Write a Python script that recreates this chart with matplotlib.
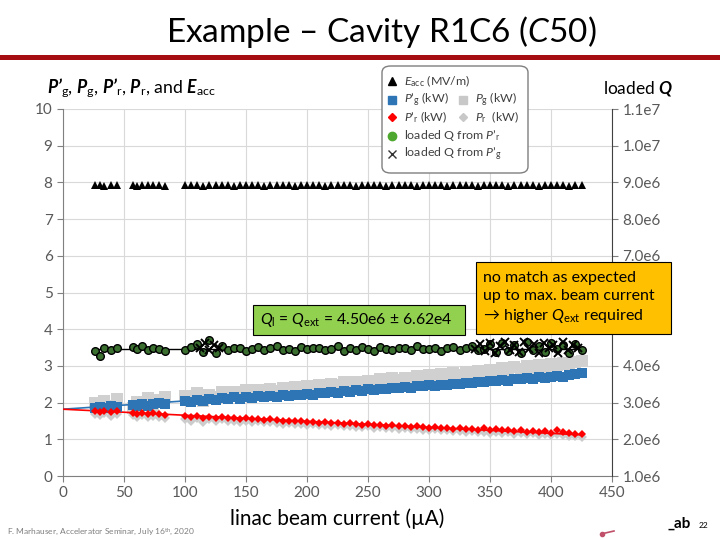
import numpy as np
import matplotlib
matplotlib.use("Agg")
import matplotlib.pyplot as plt
from matplotlib.lines import Line2D
from matplotlib.patches import Rectangle, FancyBboxPatch
from matplotlib.ticker import FuncFormatter

plt.rcParams['font.family'] = ['Lato', 'DejaVu Sans']
plt.rcParams['mathtext.fontset'] = 'custom'
plt.rcParams['mathtext.rm'] = 'Lato'
plt.rcParams['mathtext.it'] = 'Lato:italic'
plt.rcParams['mathtext.bf'] = 'Lato:bold'
plt.rcParams['mathtext.bfit'] = 'Lato:italic:bold'

# beam current (uA), shared by all measured series
current = [26, 30, 34, 39, 44, 57, 61, 65, 70, 74, 79, 84,
           100, 105, 110, 115, 120, 125, 130, 135, 140, 145, 150, 155, 160, 165, 170,
           175, 180, 185, 190, 195, 200, 205, 210, 215, 220, 225, 230, 235, 240, 245,
           250, 255, 260, 265, 270, 275, 280, 285, 290, 295, 300, 305, 310, 315, 320,
           325, 330, 335, 340, 345, 350, 355, 360, 365, 370, 375, 380, 385, 390, 395,
           400, 405, 410, 415, 420, 425]

eacc = [7.92, 7.93, 7.91, 7.92, 7.93, 7.92, 7.91, 7.93, 7.92, 7.92, 7.93, 7.91,
        7.92, 7.93, 7.92, 7.91, 7.93, 7.92, 7.92, 7.93, 7.91, 7.92, 7.93, 7.92, 7.92, 7.91, 7.93,
        7.92, 7.92, 7.93, 7.91, 7.92, 7.93, 7.92, 7.92, 7.91, 7.93, 7.92, 7.92, 7.93, 7.91, 7.92,
        7.93, 7.92, 7.92, 7.91, 7.93, 7.92, 7.92, 7.93, 7.91, 7.92, 7.93, 7.92, 7.92, 7.91, 7.93,
        7.92, 7.92, 7.93, 7.91, 7.92, 7.93, 7.92, 7.92, 7.91, 7.93, 7.92, 7.92, 7.93, 7.91, 7.92,
        7.93, 7.92, 7.92, 7.91, 7.93, 7.92]

pg_prime = [1.86, 1.88, 1.85, 1.90, 1.87, 1.93, 1.90, 1.95, 1.92, 1.96, 1.98, 1.95,
            2.05, 2.02, 2.08, 2.04, 2.10, 2.07, 2.12, 2.10, 2.14, 2.11, 2.15, 2.13, 2.17, 2.15, 2.18,
            2.16, 2.20, 2.19, 2.22, 2.20, 2.24, 2.22, 2.27, 2.25, 2.29, 2.27, 2.31, 2.30, 2.33, 2.32,
            2.36, 2.34, 2.38, 2.37, 2.40, 2.39, 2.43, 2.41, 2.45, 2.44, 2.47, 2.46, 2.49, 2.48, 2.52,
            2.50, 2.54, 2.53, 2.57, 2.55, 2.60, 2.58, 2.62, 2.60, 2.64, 2.63, 2.66, 2.65, 2.69, 2.67,
            2.71, 2.73, 2.70, 2.76, 2.78, 2.80]

pg = [1.98, 1.80, 2.05, 1.92, 2.10, 1.85, 2.02, 1.95, 2.12, 1.90, 2.08, 2.15,
      2.18, 2.10, 2.25, 2.05, 2.22, 2.15, 2.28, 2.20, 2.30, 2.24, 2.33, 2.26, 2.35, 2.30, 2.38,
      2.32, 2.40, 2.36, 2.42, 2.38, 2.46, 2.40, 2.48, 2.45, 2.52, 2.47, 2.55, 2.50, 2.57, 2.54,
      2.60, 2.56, 2.63, 2.58, 2.66, 2.62, 2.68, 2.65, 2.72, 2.68, 2.74, 2.70, 2.77, 2.73, 2.80,
      2.76, 2.83, 2.79, 2.86, 2.82, 2.90, 2.86, 2.93, 2.89, 2.96, 2.92, 2.99, 2.95, 3.02, 2.98,
      3.05, 3.02, 3.08, 3.05, 3.10, 3.12]

pr_prime = [1.77, 1.75, 1.78, 1.74, 1.76, 1.72, 1.70, 1.73, 1.69, 1.71, 1.68, 1.67,
            1.63, 1.60, 1.64, 1.58, 1.62, 1.57, 1.61, 1.58, 1.57, 1.55, 1.58, 1.54, 1.56, 1.53, 1.55,
            1.52, 1.50, 1.51, 1.49, 1.50, 1.47, 1.48, 1.45, 1.47, 1.44, 1.45, 1.42, 1.44, 1.41, 1.40,
            1.42, 1.39, 1.40, 1.37, 1.38, 1.36, 1.37, 1.34, 1.36, 1.33, 1.32, 1.34, 1.31, 1.32, 1.29,
            1.30, 1.28, 1.29, 1.26, 1.30, 1.25, 1.27, 1.24, 1.26, 1.22, 1.25, 1.21, 1.23, 1.20, 1.22,
            1.18, 1.24, 1.21, 1.18, 1.15, 1.14]

pr = [1.70, 1.66, 1.72, 1.64, 1.69, 1.65, 1.62, 1.66, 1.60, 1.64, 1.61, 1.59,
      1.56, 1.50, 1.57, 1.48, 1.55, 1.50, 1.54, 1.51, 1.50, 1.47, 1.51, 1.47, 1.49, 1.46, 1.48,
      1.45, 1.43, 1.44, 1.42, 1.43, 1.40, 1.41, 1.38, 1.40, 1.37, 1.38, 1.35, 1.37, 1.34, 1.33,
      1.35, 1.32, 1.33, 1.30, 1.31, 1.29, 1.30, 1.27, 1.29, 1.26, 1.25, 1.27, 1.24, 1.25, 1.22,
      1.23, 1.21, 1.22, 1.19, 1.21, 1.18, 1.20, 1.17, 1.19, 1.15, 1.18, 1.14, 1.16, 1.13, 1.15,
      1.11, 1.14, 1.12, 1.10, 1.08, 1.07]

# loaded Q from P'r, in units of 1e6
q_from_pr = [4.40, 4.28, 4.48, 4.43, 4.50, 4.52, 4.45, 4.55, 4.42, 4.50, 4.47, 4.40,
             4.44, 4.52, 4.60, 4.38, 4.70, 4.35, 4.55, 4.42, 4.48, 4.50, 4.40, 4.46, 4.52, 4.43, 4.49,
             4.55, 4.42, 4.47, 4.40, 4.52, 4.45, 4.48, 4.50, 4.43, 4.46, 4.53, 4.41, 4.49, 4.44, 4.51,
             4.47, 4.40, 4.52, 4.46, 4.43, 4.50, 4.48, 4.42, 4.54, 4.47, 4.45, 4.50, 4.41, 4.48, 4.52,
             4.44, 4.49, 4.55, 4.43, 4.47, 4.60, 4.38, 4.62, 4.40, 4.58, 4.35, 4.65, 4.42, 4.55, 4.37,
             4.63, 4.45, 4.58, 4.36, 4.60, 4.44]

# loaded Q from P'g (dense cluster), in units of 1e6
current_qg = [112, 116, 120, 124, 128, 338, 342, 346, 350, 354, 358, 362, 366, 370,
              374, 378, 382, 386, 390, 394, 398, 402, 406, 410, 414, 418, 422]
q_from_pg = [4.50, 4.62, 4.42, 4.58, 4.48, 4.45, 4.60, 4.40, 4.62, 4.35, 4.55, 4.66, 4.42,
             4.58, 4.38, 4.64, 4.45, 4.60, 4.36, 4.62, 4.48, 4.56, 4.34, 4.65, 4.44, 4.58, 4.50]

# linear fits
fit_x = [0, 425]
fit_pg = [1.82, 2.78]
fit_pr = [1.82, 1.12]
fit_qx = [26, 425]
fit_q = [4.46, 4.46]

grey_txt = '#595959'

fig = plt.figure(figsize=(7.2, 5.4), dpi=100)
W, H = 720.0, 540.0

def fx(px):
    return px / W

def fy(py):
    return 1 - py / H

ax = fig.add_axes([fx(63), fy(476), 549 / W, 367 / H])
ax.set_xlim(0, 450)
ax.set_ylim(0, 10)
ax.set_xticks(np.arange(0, 451, 50))
ax.set_yticks(np.arange(0, 11, 1))
ax.grid(True, color='#d9d9d9', lw=0.8)
ax.set_axisbelow(True)
for s in ['top', 'right']:
    ax.spines[s].set_visible(False)
for s in ['left', 'bottom']:
    ax.spines[s].set_color('#808080')
ax.tick_params(colors='#808080', labelcolor=grey_txt, labelsize=11, length=4)
ax.set_xlabel('linac beam current (µA)', fontsize=15, labelpad=6)

ax.plot(current, pg, 's', color='#d0d0d0', ms=9, mew=0, zorder=2)
ax.plot(current, pr, 'D', color='#cccccc', ms=5.5, mew=0, zorder=2)
ax.plot(fit_x, fit_pg, '-', color='#2e75b6', lw=1.2, zorder=3)
ax.plot(fit_x, fit_pr, '-', color='#ff0000', lw=1.2, zorder=3)
ax.plot(current, pg_prime, 's', color='#2e75b6', ms=6.5, mew=0, zorder=4)
ax.plot(current, pr_prime, 'D', color='#ff0000', ms=4.5, mew=0, zorder=4)
ax.plot(current, eacc, '^', color='black', ms=6, mew=0, zorder=4)

ax2 = ax.twinx()
ax2.set_ylim(1e6, 1.1e7)
ax2.set_yticks(np.arange(1e6, 1.15e7, 1e6))

def qfmt(v, pos):
    # 5.0e6 and 6.0e6 sit underneath the orange note
    if round(v / 1e6) in (5, 6):
        return ''
    m, e = f"{v:.1e}".split('e')
    return f"{m}e{int(e)}"

ax2.yaxis.set_major_formatter(FuncFormatter(qfmt))
for s in ['top', 'left', 'bottom']:
    ax2.spines[s].set_visible(False)
ax2.spines['right'].set_color('#404040')
ax2.tick_params(colors='#808080', labelcolor=grey_txt, labelsize=11, length=4)
ax2.plot(fit_qx, np.array(fit_q) * 1e6, '-', color='black', lw=1.0, zorder=2)
ax2.plot(current, np.array(q_from_pr) * 1e6, 'o', ms=5.5, mfc='#3a6f30', mec='black',
         mew=1.0, zorder=3)
ax2.plot(current_qg, np.array(q_from_pg) * 1e6, 'x', ms=6, color='black', mew=1.4, zorder=3)

# title and red rule
fig.text(fx(381), fy(42), 'Example – Cavity R1C6 ($\\mathit{C50}$)', fontsize=24,
         ha='center', va='baseline')
fig.add_artist(Rectangle((0, fy(60)), 1, 5 / H, transform=fig.transFigure,
                         facecolor='#a50d12', edgecolor='none'))

# axis titles
fig.text(fx(47), fy(88),
         "$\\mathbfit{P’}_{\\mathrm{g}}$, $\\mathbfit{P}_{\\mathrm{g}}$, "
         "$\\mathbfit{P’}_{\\mathrm{r}}$, $\\mathbfit{P}_{\\mathrm{r}}$, and "
         "$\\mathbfit{E}_{\\mathrm{acc}}$", fontsize=12.7, ha='left', va='center')
fig.text(fx(638), fy(88), "loaded $\\mathbfit{Q}$", fontsize=12.5, ha='center', va='center')

# legend
fig.add_artist(FancyBboxPatch((fx(382), fy(173)), 146 / W, 107 / H,
                              boxstyle='round,pad=0,rounding_size=0.012',
                              transform=fig.transFigure, facecolor='white',
                              edgecolor='#7f7f7f', lw=1.0))
leg_rows = [
    (fx(392), fy(81), dict(marker='^', color='black', ms=6),
     "$\\mathit{E}_{\\mathrm{acc}}$ (MV/m)"),
    (fx(392), fy(100), dict(marker='s', color='#2e75b6', ms=6),
     "$\\mathit{P’}_{\\mathrm{g}}$ (kW)"),
    (fx(463), fy(100), dict(marker='s', color='#c8c8c8', ms=6),
     "$\\mathit{P}_{\\mathrm{g}}$ (kW)"),
    (fx(392), fy(117), dict(marker='D', color='#ff0000', ms=4.5),
     "$\\mathit{P’}_{\\mathrm{r}}$ (kW)"),
    (fx(463), fy(117), dict(marker='D', color='#c8c8c8', ms=4.5),
     "$\\mathit{P}_{\\mathrm{r}}$  (kW)"),
    (fx(392), fy(136), dict(marker='o', color='#4ea72e', ms=6),
     "loaded Q from $\\mathit{P’}_{\\mathrm{r}}$"),
    (fx(392), fy(154), dict(marker='x', color='#333333', ms=6),
     "loaded Q from $\\mathit{P’}_{\\mathrm{g}}$"),
]
for lx, ly, mk, label in leg_rows:
    fig.add_artist(Line2D([lx], [ly], transform=fig.transFigure, ls='none', mew=1, **mk))
    fig.text(lx + 12 / W, ly, label, fontsize=8.9, color='#404040', ha='left', va='center')

# annotation boxes
fig.add_artist(Rectangle((fx(253), fy(335)), 212 / W, 30 / H, transform=fig.transFigure,
                         facecolor='#92d050', edgecolor='black', lw=0.8, zorder=4))
fig.text(fx(260), fy(320),
         "$\\mathit{Q}_{\\mathrm{l}}$ = $\\mathit{Q}_{\\mathrm{ext}}$ = 4.50e6 ± 6.62e4",
         fontsize=11.3, ha='left', va='center', zorder=5)
fig.add_artist(Rectangle((fx(476), fy(334)), 195 / W, 72 / H, transform=fig.transFigure,
                         facecolor='#ffc000', edgecolor='black', lw=0.8, zorder=4))
fig.text(fx(483), fy(298),
         "no match as expected\nup to max. beam current\n"
         "→ higher $\\mathit{Q}_{\\mathrm{ext}}$ required",
         fontsize=11.5, ha='left', va='center', linespacing=1.35, zorder=5)

# footer
fig.text(fx(7), fy(532), "F. Marhauser, Accelerator Seminar, July 16$^{\\mathrm{th}}$, 2020",
         fontsize=6, color='#7f7f7f', ha='left', va='center')
fig.text(fx(667), fy(524), "_ab", fontsize=11, fontweight='bold', ha='left', va='center')
fig.text(fx(699), fy(526), "22", fontsize=6, ha='left', va='center')
fig.add_artist(Line2D([fx(601), fx(614)], [fy(534), fy(531)], transform=fig.transFigure,
                      color='#c0506a', lw=1.2))
fig.add_artist(Line2D([fx(602)], [fy(534)], transform=fig.transFigure, marker='o',
                      ms=3, color='#c0506a'))

fig.savefig('out.png', dpi=100)
